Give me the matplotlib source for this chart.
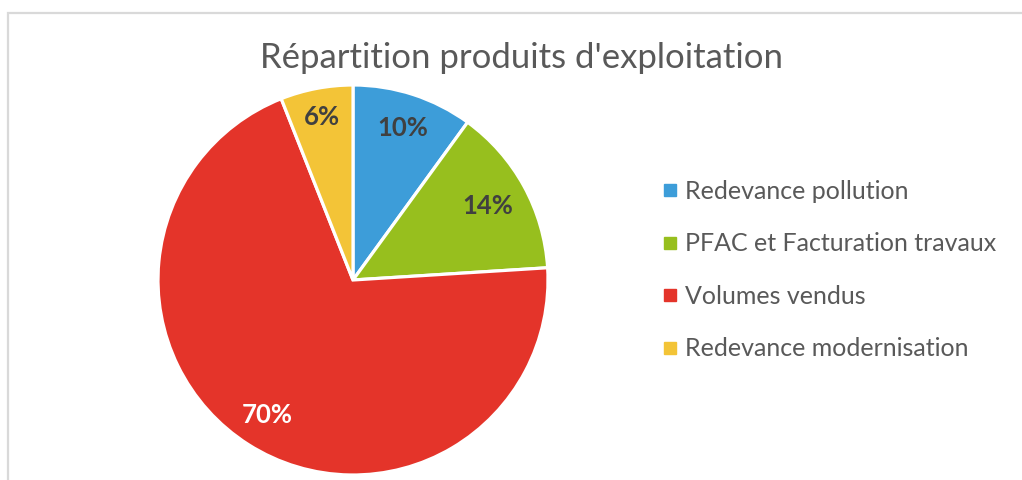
import matplotlib
matplotlib.use("Agg")
import matplotlib.pyplot as plt
from matplotlib.lines import Line2D
from matplotlib.patches import Rectangle
import numpy as np

plt.rcParams['font.family'] = ['Lato', 'DejaVu Sans']

title = "Répartition produits d'exploitation"
categories = ["Redevance pollution", "PFAC et Facturation travaux",
              "Volumes vendus", "Redevance modernisation"]
values = [10, 14, 70, 6]
colors = ["#3D9DD9", "#97BF1E", "#E4342A", "#F3C437"]
label_colors = ["#404040", "#404040", "#FFFFFF", "#404040"]

W, H = 1022, 480
fig = plt.figure(figsize=(W / 100, H / 100), dpi=100)

# outer frame (light gray border)
fig.patches.append(Rectangle((8 / W, -0.1), 1.2, (480 - 13) / H + 0.1,
                             transform=fig.transFigure, fill=False,
                             edgecolor="#D9D9D9", linewidth=1.6))

cx, cy, r = 353, 280, 195
ax = fig.add_axes([(cx - r) / W, (H - cy - r) / H, 2 * r / W, 2 * r / H])
wedges, _ = ax.pie(values, colors=colors, startangle=90, counterclock=False,
                   radius=1, wedgeprops=dict(edgecolor="white", linewidth=2.3))
ax.set_xlim(-1, 1)
ax.set_ylim(-1, 1)
ax.set_aspect("equal")
ax.axis("off")

dists = [0.82, 0.79, 0.82, 0.85]
for w, v, c, d in zip(wedges, values, label_colors, dists):
    ang = np.deg2rad((w.theta1 + w.theta2) / 2)
    ax.text(d * np.cos(ang), d * np.sin(ang), f"{v}%", ha="center", va="center",
            fontsize=18.5, fontweight="bold", color=c)

fig.text(521 / W, 1 - 58 / H, title, ha="center", va="center",
         fontsize=25, color="#595959")

handles = [Line2D([], [], marker="s", linestyle="none", markersize=8,
                  markerfacecolor=col, markeredgecolor=col) for col in colors]
fig.legend(handles, categories, loc="center left",
           bbox_to_anchor=(641 / W, 1 - 270 / H), frameon=False,
           fontsize=18, labelcolor="#595959", handlelength=0.5,
           handletextpad=0.36, labelspacing=1.18)

fig.savefig("out.png", dpi=100)
